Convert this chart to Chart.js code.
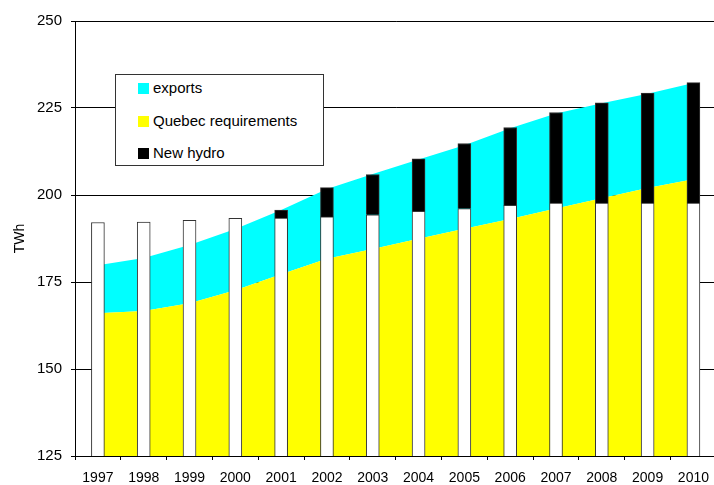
<!DOCTYPE html>
<html>
<head>
<meta charset="utf-8">
<script src="https://cdn.jsdelivr.net/npm/chart.js@4.4.0/dist/chart.umd.min.js"></script>
<style>
  body { margin: 0; overflow: hidden; background: #fff; font-family: "Liberation Sans", Arial, sans-serif; }
  #wrap { position: relative; width: 719px; height: 485px; }
  #legend { position: absolute; left: 115px; top: 74px; width: 207px; height: 90px; border: 1px solid #333; background: #fff; }
  .item { position: absolute; left: 22px; height: 18px; line-height: 18px; font-size: 15px; color: #000; white-space: nowrap; }
  .swatch { display: inline-block; width: 11px; height: 11px; margin-right: 4px; vertical-align: -1px; }
</style>
</head>
<body>
<div id="wrap">
  <canvas id="chart" width="719" height="485"></canvas>
  <div id="legend"></div>
</div>
<script>
    // TWh
    const years = ['1997', '1998', '1999', '2000', '2001', '2002', '2003', '2004', '2005', '2006', '2007', '2008', '2009', '2010'];
    const existing = [192.1, 192.2, 192.7, 193.3, 193.4, 193.7, 194.3, 195.3, 196.1, 197.0, 197.7, 197.7, 197.7, 197.7];
    const newHydro = [null, null, null, null, 2.3, 8.4, 11.6, 15.1, 18.7, 22.4, 26.0, 28.8, 31.6, 34.6];
    const quebec = [166.0, 166.7, 168.9, 172.6, 177.2, 181.7, 184.5, 187.4, 190.3, 193.1, 196.1, 199.1, 202.0, 204.5];
    const exportsTWh = [13.8, 15.2, 16.7, 17.6, 18.5, 20.0, 21.5, 22.8, 24.0, 26.1, 27.3, 27.3, 27.1, 27.7];

    const legendLabels = ['exports', 'Quebec requirements', 'New hydro'];
    const legendColors = ['#00ffff', '#ffff00', '#000000'];

    const FONT = '"Liberation Sans", Arial, sans-serif';

    // legend box sits inside the plot, like the original
    const legend = document.getElementById('legend');
    legendLabels.forEach(function (name, i) {
        const row = document.createElement('div');
        row.className = 'item';
        row.style.top = (4 + i * 32.5) + 'px';
        const sw = document.createElement('span');
        sw.className = 'swatch';
        sw.style.background = legendColors[i];
        row.appendChild(sw);
        row.appendChild(document.createTextNode(name));
        legend.appendChild(row);
    });

    const ctx = document.getElementById('chart').getContext('2d');

    const chart = new Chart(ctx, {
        type: 'bar',
        data: {
            labels: years,
            datasets: [
                {
                    type: 'bar',
                    label: 'existing',
                    data: existing,
                    backgroundColor: '#ffffff',
                    borderColor: '#333333',
                    borderWidth: 1,
                    barThickness: 13,
                    stack: 'supply',
                    order: 0
                },
                {
                    type: 'bar',
                    label: 'New hydro',
                    data: newHydro,
                    backgroundColor: '#000000',
                    borderColor: '#333333',
                    borderWidth: 1,
                    barThickness: 13,
                    stack: 'supply',
                    order: 0
                },
                {
                    type: 'line',
                    label: 'Quebec requirements',
                    data: quebec,
                    backgroundColor: '#ffff00',
                    borderWidth: 0,
                    pointRadius: 0,
                    tension: 0,
                    fill: 'start',
                    stack: 'demand',
                    order: 1
                },
                {
                    type: 'line',
                    label: 'exports',
                    data: exportsTWh,
                    backgroundColor: '#00ffff',
                    borderWidth: 0,
                    pointRadius: 0,
                    tension: 0,
                    fill: '-1',
                    stack: 'demand',
                    order: 1
                }
            ]
        },
        options: {
            responsive: false,
            animation: false,
            layout: {padding: {top: 21, right: 0, bottom: 0, left: 0}},
            plugins: {
                legend: {display: false},
                tooltip: {enabled: false}
            },
            scales: {
                x: {
                    stacked: true,
                    grid: {drawOnChartArea: false, color: '#000', tickLength: 4, offset: true},
                    border: {color: '#000'},
                    ticks: {color: '#000', font: {size: 14, family: FONT}, padding: 10, maxRotation: 0, autoSkip: false},
                    afterFit: function (scale) {
                        scale.height = 29;
                    }
                },
                y: {
                    stacked: true,
                    min: 125,
                    max: 250,
                    ticks: {stepSize: 25, color: '#000', font: {size: 15, family: FONT}, padding: 9},
                    grid: {color: '#000', tickLength: 4},
                    border: {color: '#000'},
                    title: {display: true, text: 'TWh', color: '#000', font: {size: 14, family: FONT}, padding: {top: 12, bottom: 0}},
                    afterFit: function (scale) {
                        scale.width = 75;
                    }
                }
            }
        }
    });
</script>
</body>
</html>
